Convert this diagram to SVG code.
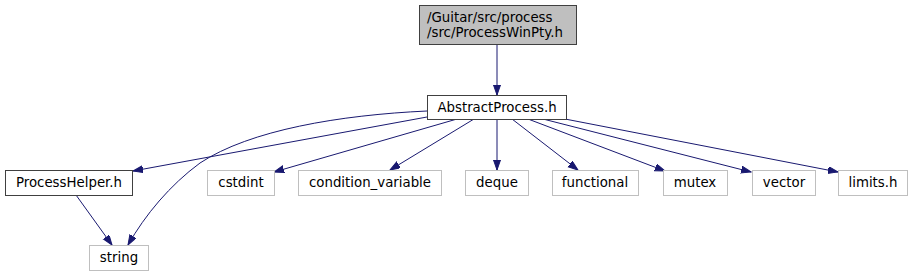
<svg xmlns="http://www.w3.org/2000/svg" width="915" height="276" viewBox="0 0 915 276">
<style>
text{font-family:"DejaVu Sans",sans-serif;font-size:13.33px;fill:#000}
.n rect{fill:#fff;stroke:#404040;stroke-width:1}
.g rect{fill:#fff;stroke:#bfbfbf;stroke-width:1}
.r rect{fill:#bfbfbf;stroke:#404040;stroke-width:1}
.c{text-anchor:middle}
#edges path{fill:none;stroke:#191970;stroke-width:1;marker-end:url(#a)}
</style>
<defs>
<marker id="a" markerUnits="userSpaceOnUse" markerWidth="11" markerHeight="8" refX="10" refY="3.5" orient="auto">
<path d="M0,0 L10,3.5 L0,7 z" fill="#191970" stroke="#191970" stroke-width="1"/>
</marker>
</defs>
<g id="edges">
<path d="M497,44 L497,95"/>
<path d="M427,117 L133,171"/>
<path d="M427,111 C340,115 250,130 200,163 C170,185 145,215 128,245"/>
<path d="M76,195 L112,245"/>
<path d="M457,119 L274,172"/>
<path d="M474,119 L390,170"/>
<path d="M497,119 L497,170"/>
<path d="M512,119 L578,170"/>
<path d="M528,119 L665,171"/>
<path d="M543,119 L751,172"/>
<path d="M565,119 L838,172"/>
</g>
<g id="node-top" class="r"><rect x="419.5" y="5.5" width="157" height="39"/><text x="427" y="22">/Guitar/src/process</text><text x="427" y="37">/src/ProcessWinPty.h</text></g>
<g id="node-abstract" class="n"><rect x="427.5" y="95.5" width="139" height="24"/><text class="c" x="497" y="112">AbstractProcess.h</text></g>
<g id="node-processhelper" class="n"><rect x="5.5" y="170.5" width="127" height="25"/><text class="c" x="69" y="187">ProcessHelper.h</text></g>
<g id="node-string" class="g"><rect x="89.5" y="245.5" width="59" height="25"/><text class="c" x="119" y="262">string</text></g>
<g id="node-cstdint" class="g"><rect x="207.5" y="170.5" width="67" height="25"/><text class="c" x="241" y="187">cstdint</text></g>
<g id="node-condvar" class="g"><rect x="298.5" y="170.5" width="143" height="25"/><text class="c" x="370" y="187">condition_variable</text></g>
<g id="node-deque" class="g"><rect x="465.5" y="170.5" width="63" height="25"/><text class="c" x="497" y="187">deque</text></g>
<g id="node-functional" class="g"><rect x="552.5" y="170.5" width="86" height="25"/><text class="c" x="595" y="187">functional</text></g>
<g id="node-mutex" class="g"><rect x="663.5" y="170.5" width="64" height="25"/><text class="c" x="695" y="187">mutex</text></g>
<g id="node-vector" class="g"><rect x="752.5" y="170.5" width="63" height="25"/><text class="c" x="784" y="187">vector</text></g>
<g id="node-limits" class="g"><rect x="838.5" y="170.5" width="69" height="25"/><text class="c" x="873" y="187">limits.h</text></g>
</svg>
